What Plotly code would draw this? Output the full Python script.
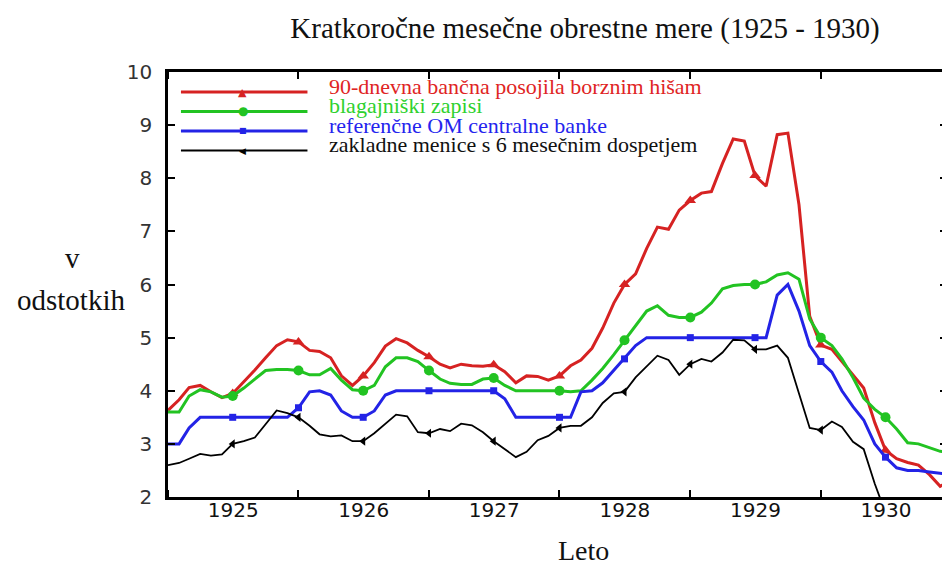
import pandas as pd
import plotly.graph_objects as go

# ---------------- data (monthly, Jan 1925 .. Jan 1931) ----------------
months = pd.date_range("1925-01-01", periods=73, freq="MS")

red_vals = [3.63, 3.83, 4.06, 4.10, 3.98, 3.87, 3.95, 4.16, 4.39, 4.62, 4.85, 4.96,
            4.92, 4.76, 4.74, 4.62, 4.28, 4.10, 4.28, 4.53, 4.84, 4.98, 4.90, 4.76,
            4.64, 4.50, 4.43, 4.50, 4.47, 4.46, 4.49, 4.36, 4.15, 4.28, 4.27, 4.20,
            4.28, 4.47, 4.58, 4.80, 5.18, 5.65, 6.00, 6.20, 6.68, 7.08, 7.04, 7.40,
            7.58, 7.72, 7.75, 8.28, 8.74, 8.70, 8.05, 7.85, 8.82, 8.85, 7.50, 5.40,
            4.86, 4.78, 4.55, 4.28, 4.05, 3.40, 2.88, 2.72, 2.65, 2.60, 2.42, 2.20,
            2.32]

green_vals = [3.60, 3.60, 3.90, 4.02, 3.98, 3.88, 3.90, 4.05, 4.22, 4.38, 4.40, 4.40,
              4.38, 4.30, 4.30, 4.42, 4.20, 4.02, 4.00, 4.10, 4.45, 4.62, 4.62, 4.55,
              4.38, 4.22, 4.14, 4.12, 4.12, 4.22, 4.24, 4.10, 4.00, 4.00, 4.00, 4.00,
              4.00, 3.98, 4.00, 4.20, 4.42, 4.68, 4.95, 5.22, 5.50, 5.60, 5.42, 5.38,
              5.38, 5.48, 5.65, 5.92, 5.98, 6.00, 6.00, 6.05, 6.18, 6.22, 6.10, 5.35,
              5.00, 4.85, 4.60, 4.25, 3.86, 3.65, 3.50, 3.28, 3.02, 3.00, 2.93, 2.86,
              2.85]

blue_vals = [3.00, 3.00, 3.30, 3.50, 3.50, 3.50, 3.50, 3.50, 3.50, 3.50, 3.50, 3.50,
             3.68, 3.98, 4.00, 3.92, 3.62, 3.50, 3.50, 3.62, 3.92, 4.00, 4.00, 4.00,
             4.00, 4.00, 4.00, 4.00, 4.00, 4.00, 4.00, 3.85, 3.50, 3.50, 3.50, 3.50,
             3.50, 3.50, 3.98, 4.00, 4.15, 4.38, 4.60, 4.85, 5.00, 5.00, 5.00, 5.00,
             5.00, 5.00, 5.00, 5.00, 5.00, 5.00, 5.00, 5.00, 5.80, 6.00, 5.50, 4.85,
             4.55, 4.35, 4.00, 3.70, 3.45, 3.00, 2.75, 2.55, 2.50, 2.50, 2.47, 2.45,
             2.42]

black_vals = [2.60, 2.64, 2.72, 2.81, 2.78, 2.80, 3.00, 3.05, 3.12, 3.38, 3.63, 3.58,
              3.50, 3.34, 3.18, 3.14, 3.16, 3.05, 3.05, 3.20, 3.38, 3.55, 3.52, 3.22,
              3.20, 3.28, 3.24, 3.38, 3.35, 3.22, 3.05, 2.90, 2.75, 2.85, 3.07, 3.15,
              3.30, 3.34, 3.34, 3.50, 3.77, 3.95, 3.98, 4.25, 4.45, 4.66, 4.58, 4.30,
              4.50, 4.60, 4.55, 4.72, 4.96, 4.95, 4.78, 4.78, 4.85, 4.62, 3.95, 3.30,
              3.26, 3.42, 3.32, 3.04, 2.90, 2.25, 1.70, None, None, None, None, None,
              None]

names = ["90-dnevna bančna posojila borznim hišam",
         "blagajniški zapisi",
         "referenčne OM centralne banke",
         "zakladne menice s 6 mesečnim dospetjem"]
series = [red_vals, green_vals, blue_vals, black_vals]
colors = ["#d62222", "#22c322", "#2323e6", "#000000"]
text_colors = ["#e02424", "#2ed12e", "#2424ee", "#111111"]
widths = [3, 3, 3, 1.8]
symbols = ["triangle-up", "circle", "square", "triangle-left"]
msizes = [10, 10, 7, 8]
legend_glyphs = ["▲", "●", "■", "◀"]
glyph_sizes = [11, 12, 8, 9]

title = "Kratkoročne mesečne obrestne mere (1925 - 1930)"
ylabel_lines = ["v", "odstotkih"]
xlabel = "Leto"

# page body adds an 8 px offset; the figure is sized to fit the window
W, H, OFF = 942, 561, 8
PL, PT, PR, PB = 168, 72, 950, 497          # plot-area edges in window pixels
PW, PH = PR - PL, PB - PT

def px(xw):
    return (xw - PL) / PW

def py(yw):
    return (PB - yw) / PH

# ---------------- figure ----------------
fig = go.Figure()
for vals, name, col, w, sym, ms in zip(series, names, colors, widths, symbols, msizes):
    fig.add_trace(go.Scatter(x=months, y=vals, mode="lines", name=name,
                             line=dict(color=col, width=w), showlegend=False,
                             connectgaps=False))
    fig.add_trace(go.Scatter(x=months[6::6], y=vals[6::6], mode="markers", name=name,
                             marker=dict(color=col, symbol=sym, size=ms),
                             showlegend=False, hoverinfo="skip"))

serif = "Liberation Serif, Times New Roman, serif"
sans = "DejaVu Sans, sans-serif"

fig.update_layout(
    width=W, height=H,
    margin=dict(l=PL - OFF, r=W + OFF - PR, t=PT - OFF, b=H + OFF - PB),
    paper_bgcolor="white", plot_bgcolor="white",
    title=dict(text=title, x=(585 - OFF) / W, xref="container", xanchor="center",
               y=1 - (28 - OFF) / H, yref="container", yanchor="middle",
               font=dict(family=serif, size=29, color="#111")),
    xaxis=dict(type="date", range=["1925-01-01", "1930-12-20"],
               dtick="M12", tick0="1925-01-01", tickformat="%Y",
               ticklabelmode="period",
               ticks="inside", ticklen=7, tickwidth=2, tickcolor="black",
               showline=True, linecolor="black", linewidth=2.5, mirror="ticks",
               showgrid=False, zeroline=False,
               tickfont=dict(family=sans, size=20, color="#111"),
               ticklabelstandoff=-7),
    yaxis=dict(range=[2, 10], dtick=1, tick0=2,
               ticks="inside", ticklen=7, tickwidth=2, tickcolor="black",
               showline=True, linecolor="black", linewidth=2.5, mirror="ticks",
               showgrid=False, zeroline=False,
               tickfont=dict(family=sans, size=20, color="#333"),
               ticklabelstandoff=9),
)

# axis titles as horizontal text
fig.add_annotation(text=ylabel_lines[0], xref="paper", yref="paper",
                   x=px(72), y=py(258), showarrow=False,
                   xanchor="center", yanchor="middle",
                   font=dict(family=serif, size=29, color="#111"))
fig.add_annotation(text=ylabel_lines[1], xref="paper", yref="paper",
                   x=px(71), y=py(300), showarrow=False,
                   xanchor="center", yanchor="middle",
                   font=dict(family=serif, size=29, color="#111"))
fig.add_annotation(text=xlabel, xref="paper", yref="paper",
                   x=px(585), y=py(550), showarrow=False,
                   xanchor="center", yanchor="middle",
                   font=dict(family=serif, size=28, color="#111"))

# custom legend (long line samples, coloured text)
for k, (name, col, tcol, w, g, gs) in enumerate(zip(names, colors, text_colors, widths,
                                                   legend_glyphs, glyph_sizes)):
    ly = py(92 + 19.5 * k)
    fig.add_shape(type="line", xref="paper", yref="paper", x0=px(181), x1=px(308),
                  y0=ly, y1=ly, line=dict(color=col, width=w))
    fig.add_annotation(text=g, xref="paper", yref="paper", x=px(243), y=ly,
                       showarrow=False, xanchor="center", yanchor="middle",
                       font=dict(family=sans, size=gs, color=col))
    fig.add_annotation(text=name, xref="paper", yref="paper", x=px(328),
                       y=py(86 + 19.5 * k), showarrow=False,
                       xanchor="left", yanchor="middle",
                       font=dict(family=serif, size=22, color=tcol))

fig.write_html("out.html")
